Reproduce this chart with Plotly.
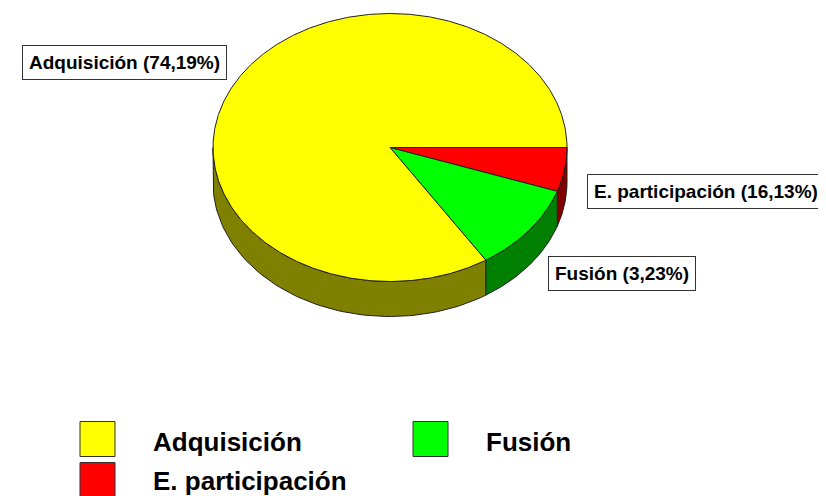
import numpy as np
import plotly.graph_objects as go

# Data (visual slice shares) and label texts
slice_names = ["E. participación", "Fusión", "Adquisición"]
slice_shares = [5.3, 10.6, 84.1]
label_texts = ["E. participación (16,13%)", "Fusión (3,23%)", "Adquisición (74,19%)"]
legend_order = ["Adquisición", "Fusión", "E. participación"]

top_colors = {"Adquisición": "#FFFF00", "Fusión": "#00FF00", "E. participación": "#FF0000"}
side_colors = {"Adquisición": "#808000", "Fusión": "#008000", "E. participación": "#800000"}

W, H = 826, 496
OFF = 8  # page body margin
cx, cy, rx, ry, depth = 390, 147.5, 177, 134, 35

fig = go.Figure()

total = sum(slice_shares)
angles = np.cumsum([0] + [v / total * 360 for v in slice_shares])

def pt(theta_deg, dz=0):
    t = np.radians(theta_deg)
    return cx + rx * np.cos(t), cy + ry * np.sin(t) + dz

# walls (front half: 0..180 deg in screen coords)
for i, name in enumerate(slice_names):
    a, b = angles[i], angles[i + 1]
    lo, hi = max(a, 0), min(b, 180)
    if hi <= lo:
        continue
    th = np.linspace(lo, hi, 80)
    xs_top, ys_top = pt(th)
    xs_bot, ys_bot = pt(th[::-1], depth)
    xs = np.concatenate([xs_top, xs_bot, xs_top[:1]])
    ys = np.concatenate([ys_top, ys_bot, ys_top[:1]])
    fig.add_trace(go.Scatter(x=xs, y=ys, mode="lines", fill="toself",
                             fillcolor=side_colors[name],
                             line=dict(color="#202020", width=1),
                             hoverinfo="skip", showlegend=False))

# tops
for i, name in enumerate(slice_names):
    a, b = angles[i], angles[i + 1]
    th = np.linspace(a, b, max(int(b - a) * 2, 10))
    xs, ys = pt(th)
    xs = np.concatenate([[cx], xs, [cx]])
    ys = np.concatenate([[cy], ys, [cy]])
    fig.add_trace(go.Scatter(x=xs, y=ys, mode="lines", fill="toself",
                             fillcolor=top_colors[name],
                             line=dict(color="#202020", width=1),
                             name=name, hoverinfo="name", showlegend=False))

# slice labels
label_pos = {"Adquisición": (124, 62), "E. participación": (706, 191), "Fusión": (622, 273)}
for name, txt in zip(slice_names, label_texts):
    x, y = label_pos[name]
    fig.add_annotation(x=x, y=y, text=txt, showarrow=False,
                       font=dict(family="Liberation Sans, Arial", size=19, color="black", weight="bold"),
                       bgcolor="white", bordercolor="#333333", borderwidth=1, borderpad=6,
                       xanchor="center", yanchor="middle")

# legend
leg_pos = {"Adquisición": (97.5, 439, 151, 442), "Fusión": (430.5, 439, 484, 442),
           "E. participación": (97.5, 480, 151, 481)}
for name in legend_order:
    mx, my, tx, ty = leg_pos[name]
    fig.add_trace(go.Scatter(x=[mx], y=[my], mode="markers",
                             marker=dict(symbol="square", size=35, color=top_colors[name],
                                         line=dict(color="#333333", width=1)),
                             hoverinfo="skip", showlegend=False))
    fig.add_annotation(x=tx, y=ty, text=name, showarrow=False, xanchor="left", yanchor="middle",
                       font=dict(family="Liberation Sans, Arial", size=26, color="black", weight="bold"))

fig.update_layout(width=W - OFF, height=H - OFF, margin=dict(l=0, r=0, t=0, b=0),
                  paper_bgcolor="white", plot_bgcolor="white",
                  xaxis=dict(range=[OFF, W], visible=False, fixedrange=True),
                  yaxis=dict(range=[H, OFF], visible=False, fixedrange=True))

fig.write_html("out.html")
